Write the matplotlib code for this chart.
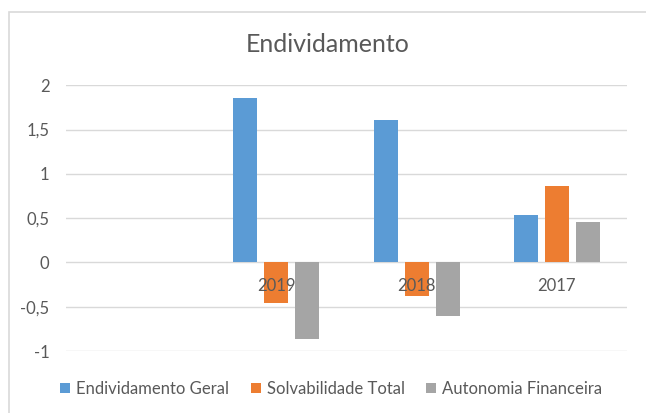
import numpy as np
import matplotlib
matplotlib.use("Agg")
import matplotlib.pyplot as plt
from matplotlib.patches import Rectangle

# Data
categories = ["", "2019", "2018", "2017"]
endividamento_geral = [np.nan, 1.86, 1.61, 0.54]
solvabilidade_total = [np.nan, -0.46, -0.38, 0.86]
autonomia_financeira = [np.nan, -0.86, -0.61, 0.46]

series = [
    ("Endividamento Geral", endividamento_geral, "#5B9BD5"),
    ("Solvabilidade Total", solvabilidade_total, "#ED7D31"),
    ("Autonomia Financeira", autonomia_financeira, "#A5A5A5"),
]

plt.rcParams['font.family'] = ['Lato', 'DejaVu Sans']
text_color = "#595959"
grid_color = "#D9D9D9"

fig = plt.figure(figsize=(6.46, 4.13), dpi=100)
ax = fig.add_axes([66 / 646, 1 - 351 / 413, (627 - 66) / 646, (351 - 85.3) / 413])

x = np.arange(len(categories))
step = 0.221
width = 0.172
for i, (name, vals, color) in enumerate(series):
    ax.bar(x + (i - 1) * step, vals, width, color=color, label=name, zorder=1)

ax.set_xlim(-0.5, len(categories) - 0.5)
ax.set_ylim(-1, 2)
ax.set_yticks([-1, -0.5, 0, 0.5, 1, 1.5, 2])
ax.set_yticklabels(["-1", "-0,5", "0", "0,5", "1", "1,5", "2"])
for y in ax.get_yticks():
    ax.axhline(y, color=grid_color, lw=1.0, zorder=0)

# category labels sit just under the zero line
ax.spines['bottom'].set_position(('data', 0))
for s in ax.spines.values():
    s.set_visible(False)
ax.set_xticks(x)
ax.set_xticklabels(categories)
ax.tick_params(axis='x', length=0, pad=11, labelsize=12, labelcolor=text_color)
ax.tick_params(axis='y', length=0, pad=12, labelsize=12, labelcolor=text_color)

fig.text(0.508, 1 - 45 / 413, "Endividamento", ha="center", va="center",
         fontsize=18, color=text_color)

fig.legend(loc="center", bbox_to_anchor=(0.513, 1 - 389 / 413), ncol=3,
           frameon=False, fontsize=12, handlelength=0.6, handleheight=0.6,
           handletextpad=0.35, columnspacing=1.3, labelcolor=text_color)

# chart area frame
fig.patches.append(Rectangle((9 / 646, -0.1), 1.2, 1 - 12 / 413 + 0.1,
                             transform=fig.transFigure, fill=False,
                             edgecolor=grid_color, lw=1.2))

fig.savefig("out.png", dpi=100)
